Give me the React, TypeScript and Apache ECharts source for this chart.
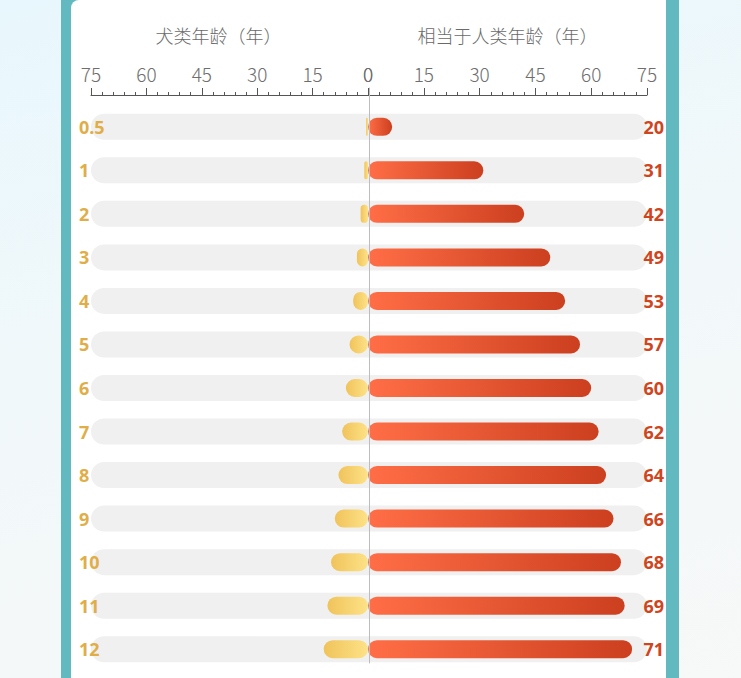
import { useEffect, useRef } from "react";
import * as echarts from "echarts";

// 犬类年龄（左侧标签，同时也是左侧条形长度）
const dogAgeLabels = ["0.5", "1", "2", "3", "4", "5", "6", "7", "8", "9", "10", "11", "12"];
const dogAgeValues = [0.5, 1, 2, 3, 4, 5, 6, 7, 8, 9, 10, 11, 12];

// 相当于人类年龄（右侧标签）
const humanAgeLabels = ["20", "31", "42", "49", "53", "57", "60", "62", "64", "66", "68", "69", "71"];
// 右侧条形长度（按图读取，首行条形较短）
const humanBarValues = [6.5, 31, 42, 49, 53, 57, 60, 62, 64, 66, 68, 69, 71];

const AXIS_MAX = 75;
const AXIS_STEP = 15;

const FONT = '"Noto Sans CJK SC", "Noto Sans", sans-serif';
const GOLD = "#e0ae48";
const RED = "#cf4520";
const TRACK = "#f0f0f0";

export default function App() {
  const chartRef = useRef<HTMLDivElement | null>(null);

  useEffect(() => {
    const el = chartRef.current;
    if (!el) {
      return;
    }

    const chart = echarts.init(el, undefined, { renderer: "svg" });
    const track = dogAgeLabels.map(() => AXIS_MAX);

    const valueAxis = (gridIndex: number, name: string, inverse: boolean, namePad: number[]) => ({
      type: "value",
      gridIndex,
      min: 0,
      max: AXIS_MAX,
      interval: AXIS_STEP,
      inverse,
      position: "top",
      offset: 10,
      name,
      nameLocation: "middle",
      nameGap: 51,
      nameTextStyle: {
        color: "#6a6a6a",
        fontSize: 18,
        fontFamily: FONT,
        fontWeight: 300,
        padding: namePad,
      },
      axisLine: { show: true, lineStyle: { color: "#555", width: 1 } },
      axisTick: { show: true, length: 7, lineStyle: { color: "#555" } },
      minorTick: { show: true, splitNumber: 5, length: 3, lineStyle: { color: "#555" } },
      axisLabel: { color: "#6e6e6e", fontSize: 19, fontFamily: FONT, fontWeight: 300, margin: 12 },
      splitLine: { show: false },
    });

    const hiddenCategory = (gridIndex: number) => ({
      type: "category",
      gridIndex,
      data: dogAgeLabels,
      inverse: true,
      show: false,
    });

    chart.setOption({
      animation: false,
      grid: [
        { left: 91, top: 105, width: 277, height: 566 },
        { left: 368, top: 105, width: 279, height: 566 },
        { left: 91, top: 88, width: 556, height: 575 },
      ],
      xAxis: [
        valueAxis(0, "犬类年龄（年）", true, [0, 22, 0, 0]),
        valueAxis(1, "相当于人类年龄（年）", false, [0, 0, 0, 0]),
        { type: "value", gridIndex: 2, min: -AXIS_MAX, max: AXIS_MAX, show: false },
      ],
      yAxis: [
        {
          type: "category",
          gridIndex: 0,
          data: dogAgeLabels,
          inverse: true,
          position: "left",
          z: 10,
          axisLine: { show: false },
          axisTick: { show: false },
          axisLabel: {
            align: "left",
            margin: 12,
            color: GOLD,
            fontSize: 18,
            fontWeight: "bold",
            fontFamily: '"Noto Sans", sans-serif',
          },
        },
        hiddenCategory(0),
        {
          type: "category",
          gridIndex: 1,
          data: humanAgeLabels,
          inverse: true,
          position: "right",
          z: 10,
          axisLine: { show: false },
          axisTick: { show: false },
          axisLabel: {
            align: "right",
            margin: 17,
            color: RED,
            fontSize: 18,
            fontWeight: "bold",
            fontFamily: '"Noto Sans", sans-serif',
          },
        },
        hiddenCategory(1),
        {
          type: "value",
          gridIndex: 2,
          min: 0,
          max: 1,
          z: 5,
          axisLine: { show: true, onZero: true, lineStyle: { color: "#bdbdbd", width: 1 } },
          axisTick: { show: false },
          axisLabel: { show: false },
          splitLine: { show: false },
        },
      ],
      series: [
        {
          type: "bar",
          xAxisIndex: 0,
          yAxisIndex: 1,
          data: track,
          barWidth: 26,
          silent: true,
          z: 1,
          itemStyle: { color: TRACK, borderRadius: [13, 0, 0, 13] },
        },
        {
          type: "bar",
          xAxisIndex: 1,
          yAxisIndex: 3,
          data: track,
          barWidth: 26,
          silent: true,
          z: 1,
          itemStyle: { color: TRACK, borderRadius: [0, 13, 13, 0] },
        },
        {
          type: "bar",
          name: "犬类年龄",
          xAxisIndex: 0,
          yAxisIndex: 0,
          data: dogAgeValues,
          barWidth: 18,
          z: 2,
          itemStyle: {
            borderRadius: 9,
            color: new echarts.graphic.LinearGradient(0, 0, 1, 0, [
              { offset: 0, color: "#f0c35b" },
              { offset: 1, color: "#fde287" },
            ]),
          },
        },
        {
          type: "bar",
          name: "相当于人类年龄",
          xAxisIndex: 1,
          yAxisIndex: 2,
          data: humanBarValues,
          barWidth: 18,
          z: 2,
          itemStyle: {
            borderRadius: 9,
            color: new echarts.graphic.LinearGradient(0, 0, 1, 0, [
              { offset: 0, color: "#ff6e46" },
              { offset: 1, color: "#cc3f1f" },
            ]),
          },
        },
      ],
    });

    return () => {
      chart.dispose();
    };
  }, []);

  return (
    <div
      style={{
        position: "fixed",
        left: 0,
        top: 0,
        width: 741,
        height: 678,
        overflow: "hidden",
        background: "linear-gradient(165deg, #e8f7fd 0%, #f1f8fa 45%, #f7f8f8 100%)",
      }}
    >
      <div
        style={{
          position: "absolute",
          left: 61,
          top: -20,
          width: 618,
          height: 720,
          background: "#63b9c0",
        }}
      >
        <div
          style={{
            position: "absolute",
            left: 10,
            right: 13,
            top: 20,
            bottom: 0,
            background: "#ffffff",
            borderTopLeftRadius: 8,
          }}
        />
      </div>
      <div
        ref={chartRef}
        style={{ position: "absolute", left: 0, top: 0, width: 741, height: 678 }}
      />
    </div>
  );
}
